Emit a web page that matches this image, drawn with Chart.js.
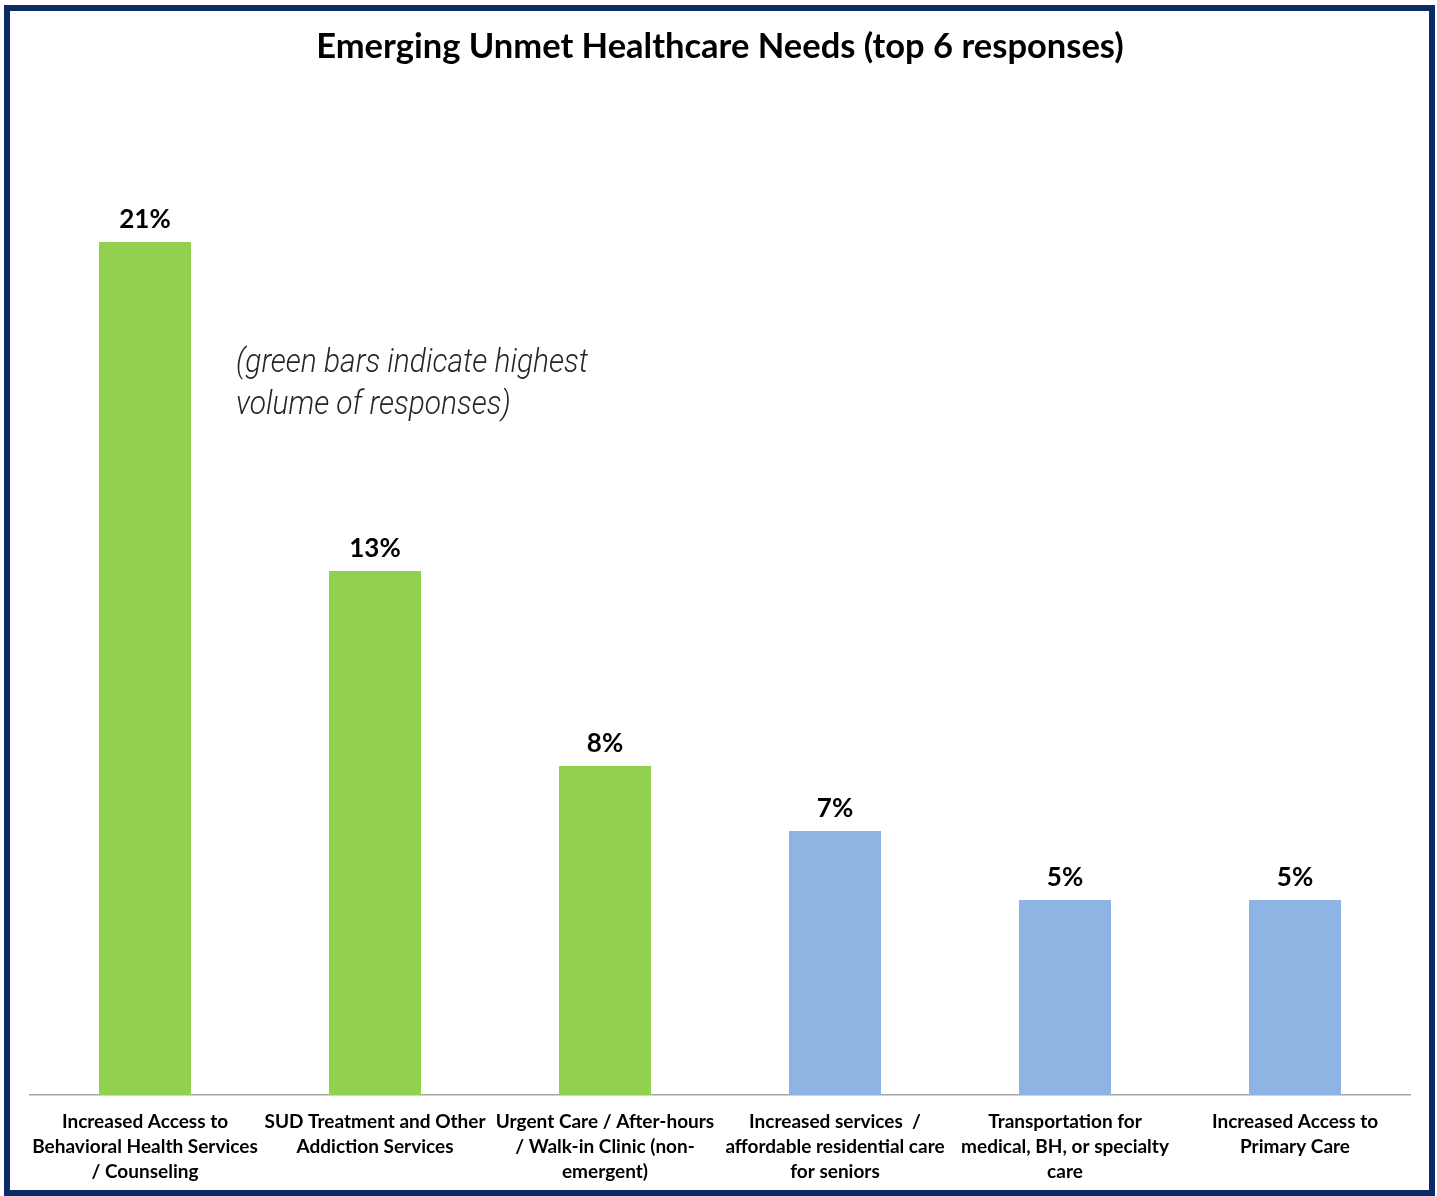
<!DOCTYPE html>
<html>
<head>
<meta charset="utf-8">
<title>Emerging Unmet Healthcare Needs</title>
<script src="https://cdn.jsdelivr.net/npm/chart.js@4.4.1/dist/chart.umd.min.js"></script>
<style>
	html, body { margin: 0; padding: 0; background: #fff; }
	.frame {
		position: absolute;
		left: 4px;
		top: 5px;
		width: 1419px;
		height: 1179px;
		border: 6px solid #0c2a66;
		background: #fff;
	}
	canvas { display: block; }
</style>
</head>
<body>
<div class="frame">
	<canvas id="needsChart" width="1419" height="1179"></canvas>
</div>
<script>
const categories = [
	['Increased Access to', 'Behavioral Health Services', '/ Counseling'],
	['SUD Treatment and Other', 'Addiction Services'],
	['Urgent Care / After-hours', '/ Walk-in Clinic (non-', 'emergent)'],
	['Increased services  /', 'affordable residential care', 'for seniors'],
	['Transportation for', 'medical, BH, or specialty', 'care'],
	['Increased Access to', 'Primary Care']
]

// share of responses, percent
const shares = [21.0, 12.9, 8.1, 6.5, 4.8, 4.8]

// the three largest needs are highlighted
const highlighted = [true, true, true, false, false, false]

const noteLines = ['(green bars indicate highest', 'volume of responses)']

const GREEN = '#92d050'
const BLUE = '#8eb4e3'
const FONT = 'Lato, "Open Sans", sans-serif'

/**
 * Writes the rounded percentage above each bar.
 */
const valueLabels = {
	id: 'valueLabels',
	afterDatasetsDraw(chart) {
		const { ctx } = chart
		const meta = chart.getDatasetMeta(0)
		ctx.save()
		ctx.font = `bold 26px ${FONT}`
		ctx.fillStyle = '#000'
		ctx.textAlign = 'center'
		ctx.textBaseline = 'alphabetic'
		meta.data.forEach((bar, i) => {
			ctx.fillText(`${Math.round(shares[i])}%`, bar.x, bar.y - 14)
		})
		ctx.restore()
	}
}

/**
 * Italic note beside the first bar, squeezed to a narrow width.
 */
const note = {
	id: 'note',
	afterDraw(chart) {
		const { ctx, chartArea } = chart
		const x = chartArea.left + 206
		const y = chartArea.top + 293
		ctx.save()
		ctx.font = 'italic 300 34px "Liberation Sans Narrow", "Arial Narrow", Roboto, sans-serif'
		ctx.fillStyle = '#262626'
		ctx.textBaseline = 'alphabetic'
		const widest = ctx.measureText(noteLines[0]).width
		const squeeze = 352 / widest
		noteLines.forEach((line, i) => {
			ctx.save()
			ctx.translate(x, y + i * 42)
			ctx.scale(squeeze, 1)
			ctx.fillText(line, 0, 0)
			ctx.restore()
		})
		ctx.restore()
	}
}

const needsChart = new Chart(document.getElementById('needsChart'), {
	type: 'bar',
	data: {
		labels: categories,
		datasets: [{
			data: shares,
			backgroundColor: highlighted.map((on) => (on ? GREEN : BLUE)),
			barPercentage: 0.4,
			categoryPercentage: 1
		}]
	},
	options: {
		responsive: false,
		animation: false,
		layout: {
			padding: { left: 20, right: 19, top: 0, bottom: -8 }
		},
		plugins: {
			legend: { display: false },
			tooltip: { enabled: false },
			title: {
				display: true,
				text: 'Emerging Unmet Healthcare Needs (top 6 responses)',
				color: '#000',
				font: { family: FONT, size: 34.5, weight: 'bold', lineHeight: 1.2 },
				padding: { top: 15, bottom: 12 }
			}
		},
		scales: {
			x: {
				grid: { display: false, drawTicks: false },
				border: { display: true, color: '#a6a6a6', width: 1.5 },
				ticks: {
					color: '#000',
					font: { family: FONT, size: 19, weight: 'bold', lineHeight: 1.316 },
					padding: 14,
					maxRotation: 0,
					minRotation: 0,
					autoSkip: false
				}
			},
			y: {
				display: false,
				min: 0,
				max: 25
			}
		}
	},
	plugins: [valueLabels, note]
})
</script>
</body>
</html>
